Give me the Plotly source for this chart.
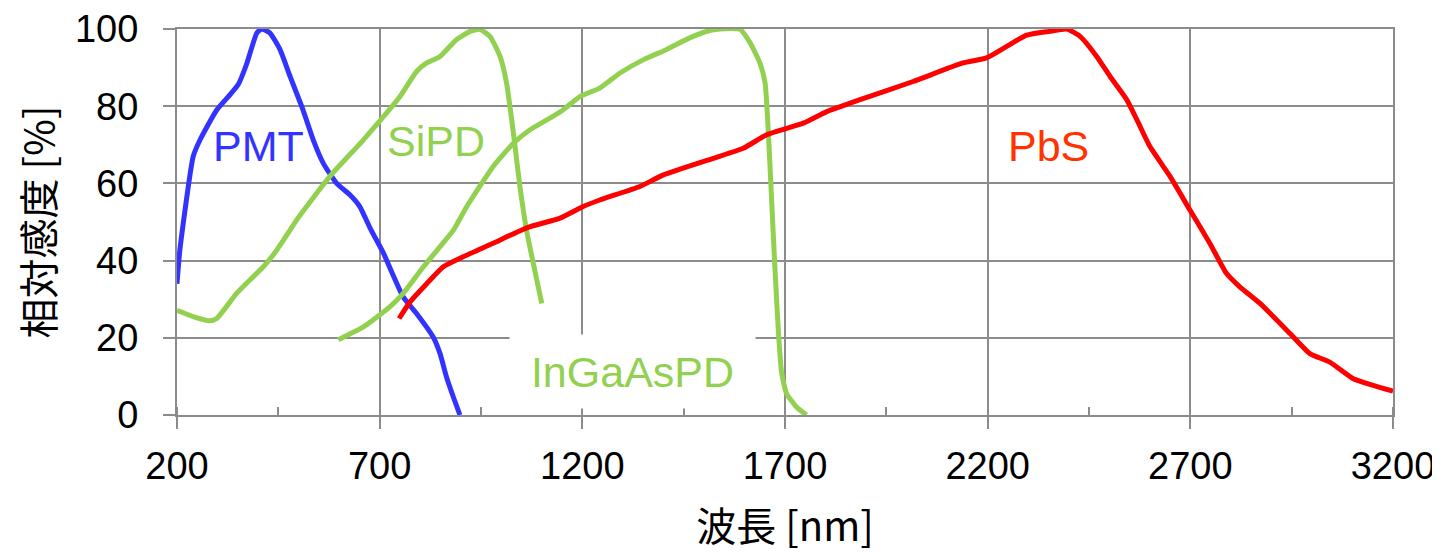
import plotly.graph_objects as go

# ---- data ----
pmt_x = [200, 207, 240, 257, 298, 331, 351, 372, 397, 409, 429, 454, 479, 511, 536, 561,
         594, 627, 651, 676, 709, 758, 791, 832, 849, 865, 882, 898]
pmt_y = [34, 42.7, 67, 71.3, 79, 83, 85.6, 91, 99, 100, 99, 94.7, 87.7, 79, 71.3, 65.2,
         60, 57, 54, 48.5, 42, 30.6, 26.3, 20.2, 15.9, 9.8, 4.6, 0]

sipd_x = [200, 240, 281, 298, 347, 380, 413, 446, 479, 495, 577, 660, 750, 791, 816, 849,
          890, 923, 947, 972, 997, 1013, 1030, 1046, 1063, 1079, 1100]
sipd_y = [27.1, 25.5, 24.4, 25, 31.5, 35, 38.4, 42.7, 47.9, 50.5, 61.8, 71.3, 82.5, 89, 91.2, 92.9,
          97.3, 99.4, 99.9, 98.1, 92.9, 86, 73, 59.2, 47.5, 39.3, 28.9]

ingaas_x = [598, 660, 725, 758, 808, 849, 882, 915, 980, 1030, 1071, 1120, 1153, 1194, 1243,
            1293, 1350, 1408, 1465, 1507, 1540, 1589, 1614, 1638, 1651, 1659, 1667, 1675,
            1684, 1692, 1704, 1729, 1753]
ingaas_y = [19.5, 22.8, 28, 31.5, 38.4, 43.6, 47.9, 54, 64.4, 70.4, 73.9, 76.9, 79.1, 82.5, 84.7,
            88.6, 92, 94.7, 97.7, 99.4, 100, 99.9, 96.4, 91.2, 86, 73, 55.7, 38.4,
            21.1, 10.7, 5.5, 2, 0]

pbs_x = [748, 775, 816, 857, 906, 980, 1063, 1145, 1202, 1243, 1342, 1400, 1523, 1597, 1655,
         1745, 1803, 1885, 2016, 2139, 2197, 2247, 2296, 2353, 2395, 2428, 2469, 2502, 2543,
         2568, 2600, 2650, 2699, 2748, 2789, 2822, 2872, 2946, 2995, 3044, 3102, 3151, 3200]
pbs_y = [25, 29.3, 34, 38.4, 41, 44.5, 48.5, 51, 54, 55.7, 59.2, 62.2, 66.5, 69.1, 72.6,
         75.6, 78.6, 81.7, 86.4, 91.2, 92.5, 95.5, 98.4, 99.4, 100, 98.1, 92.9, 87.7, 81.7,
         76.5, 69.6, 61.8, 53.1, 44.5, 36.7, 33.2, 28.9, 21.1, 15.9, 13.7, 9.4, 7.7, 6.2]

x_ticks = [200, 700, 1200, 1700, 2200, 2700, 3200]
y_ticks = [0, 20, 40, 60, 80, 100]

labels = ["PMT", "SiPD", "InGaAsPD", "PbS"]
label_x = [402, 838, 1323, 2351]
label_y = [69.6, 71, 11.4, 69.6]

BLUE = "#3333FF"
GREEN = "#92D050"
RED = "#FF0000"
PBS_TEXT = "#FF3300"
GRID = "#8C8C8C"
LATIN = "Liberation Sans, Arial, sans-serif"
CJK = "Noto Sans CJK JP, sans-serif"

fig = go.Figure()
for xs, ys, col, nm in [(pmt_x, pmt_y, BLUE, "PMT"), (sipd_x, sipd_y, GREEN, "SiPD"),
                        (ingaas_x, ingaas_y, GREEN, "InGaAsPD"), (pbs_x, pbs_y, RED, "PbS")]:
    fig.add_trace(go.Scatter(x=xs, y=ys, mode="lines", name=nm,
                             line=dict(color=col, width=5, shape="spline", smoothing=0.5)))

label_colors = [BLUE, GREEN, GREEN, PBS_TEXT]
for t, lx, ly, c in zip(labels, label_x, label_y, label_colors):
    ann = dict(x=lx, y=ly, xref="x", yref="y", text=t, showarrow=False,
               font=dict(family=LATIN, size=43, color=c), xanchor="center", yanchor="middle")
    if t == "InGaAsPD":
        ann.update(bgcolor="white", width=241, height=69, borderpad=2)
    fig.add_annotation(**ann)

axis_common = dict(showgrid=True, gridcolor=GRID, gridwidth=2, showline=True, linecolor=GRID,
                   linewidth=2, mirror=True, ticks="outside", ticklen=12, tickwidth=2,
                   tickcolor=GRID, zeroline=False, automargin=False,
                   tickfont=dict(family=LATIN, size=38, color="black"))

fig.update_xaxes(range=[200, 3200], tickvals=x_ticks, ticktext=[str(v) for v in x_ticks],
                 minor=dict(tick0=200, dtick=250, ticks="inside", ticklen=8, tickwidth=2,
                            tickcolor=GRID, showgrid=False),
                 title=dict(text="波長 [nm]", font=dict(family=CJK, size=40, color="black"),
                            standoff=45),
                 ticklabelstandoff=4,
                 **axis_common)
fig.update_yaxes(range=[0, 100], tickvals=y_ticks, ticktext=[str(v) for v in y_ticks],
                 title=dict(text="相対感度 [%]", font=dict(family=CJK, size=40, color="black"),
                            standoff=8),
                 ticklabelstandoff=17,
                 **axis_common)

# the page body has an 8px margin, so the figure is drawn 8px smaller and offset
fig.update_layout(width=1432, height=545, margin=dict(l=169, r=47, t=21, b=138),
                  paper_bgcolor="white", plot_bgcolor="white", showlegend=False)

fig.write_html("out.html")
